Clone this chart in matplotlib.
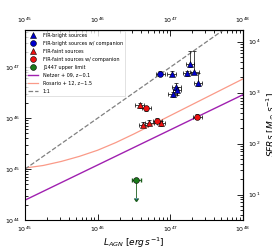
import numpy as np
import matplotlib
matplotlib.use('Agg')
import matplotlib.pyplot as plt

# log10 L_AGN, log10 L_SF (erg/s)
bright_x = [47.02, 47.27, 47.23, 47.33, 47.38, 47.08, 47.09, 47.03]
bright_y = [46.87, 47.06, 46.88, 46.91, 46.69, 46.61, 46.56, 46.47]
bright_yerr_lo = [0.05, 0.06, 0.05, 0.05, 0.06, 0.05, 0.10, 0.05]
bright_yerr_hi = [0.05, 0.25, 0.05, 0.40, 0.20, 0.08, 0.05, 0.05]

bright_comp_x = [46.86]
bright_comp_y = [46.87]

faint_x = [46.58, 46.63, 46.71, 46.87]
faint_y = [46.25, 45.87, 45.91, 45.90]

faint_comp_x = [46.67, 46.82, 47.37]
faint_comp_y = [46.19, 45.95, 46.03]

j1447_x = [46.53]
j1447_y = [44.79]

netzer_x = [45.0, 48.0]
netzer_y = [44.39, 46.46]

rosario_x = [45.0, 45.25, 45.5, 45.75, 46.0, 46.25, 46.5, 46.75, 47.0, 47.25, 47.5, 47.75, 48.0]
rosario_y = [45.02, 45.07, 45.15, 45.25, 45.37, 45.52, 45.69, 45.87, 46.05, 46.23, 46.41, 46.59, 46.77]

one_x = [45.0, 48.0]
one_y = [45.0, 48.0]

sfr_factor = 10 ** -43.5  # L_SF -> SFR


def lin(a):
    return 10 ** np.array(a)


fig = plt.figure(figsize=(2.72, 2.52), dpi=100)
ax = fig.add_axes([25 / 272, 1 - 220 / 252, 218 / 272, 190 / 252])

ax.plot(lin(netzer_x), lin(netzer_y), color='#a020b0', lw=1.0, label='Netzer + 09, z~0.1')
ax.plot(lin(rosario_x), lin(rosario_y), color='#fa9a88', lw=0.9, label='Rosario + 12, z~1.5')
ax.plot(lin(one_x), lin(one_y), color='gray', lw=0.9, ls='--', label='1:1')

ekw = dict(fmt='none', ecolor='black', elinewidth=0.5, capsize=1.2, capthick=0.5, zorder=3)
xe = 0.06


def xerr_of(x):
    x = np.array(x)
    return [10 ** x - 10 ** (x - xe), 10 ** (x + xe) - 10 ** x]


def yerr_of(y, lo, hi):
    y = np.array(y)
    return [10 ** y - 10 ** (y - np.array(lo)), 10 ** (y + np.array(hi)) - 10 ** y]


ax.errorbar(lin(bright_x), lin(bright_y), xerr=xerr_of(bright_x),
            yerr=yerr_of(bright_y, bright_yerr_lo, bright_yerr_hi), **ekw)
ax.errorbar(lin(bright_comp_x), lin(bright_comp_y), xerr=xerr_of(bright_comp_x),
            yerr=yerr_of(bright_comp_y, [0.05], [0.05]), **ekw)
ax.errorbar(lin(faint_x), lin(faint_y), xerr=xerr_of(faint_x),
            yerr=yerr_of(faint_y, [0.05] * 4, [0.05] * 4), **ekw)
ax.errorbar(lin(faint_comp_x), lin(faint_comp_y), xerr=xerr_of(faint_comp_x),
            yerr=yerr_of(faint_comp_y, [0.05] * 3, [0.05] * 3), **ekw)
gy = lin(j1447_y)
ax.errorbar(lin(j1447_x), gy, xerr=xerr_of(j1447_x), yerr=gy - gy * 10 ** -0.36,
            uplims=True, fmt='none', ecolor='#1a5c1a', elinewidth=0.6, capsize=1.5, zorder=3)

mk = dict(ls='none', ms=4.2, mec='black', mew=0.4, zorder=4)
ax.plot(lin(bright_x), lin(bright_y), marker='^', color='#0000cc', label='FIR-bright sources', **mk)
ax.plot(lin(bright_comp_x), lin(bright_comp_y), marker='o', color='#0000cc',
        label='FIR-bright sources w/ companion', **mk)
ax.plot(lin(faint_x), lin(faint_y), marker='^', color='#ee1111', label='FIR-faint sources', **mk)
ax.plot(lin(faint_comp_x), lin(faint_comp_y), marker='o', color='#ee1111',
        label='FIR-faint sources w/ companion', **mk)
ax.plot(lin(j1447_x), lin(j1447_y), marker='o', color='#1a7a1a', label='J1447 upper limit', **mk)

ax.set_xscale('log')
ax.set_yscale('log')
ax.set_xlim(1e45, 1e48)
ax.set_ylim(1e44, 10 ** 47.73)

tk = dict(direction='in', labelsize=4.5, width=0.6)
ax.tick_params(which='major', length=4, **tk)
ax.tick_params(which='minor', length=2, **tk)
ax.set_xlabel('$L_{AGN}$ [$erg\\,s^{-1}$]', fontsize=6.5, labelpad=1)
ax.set_ylabel('$L_{SF}$ [$erg\\,s^{-1}$]', fontsize=7, labelpad=10)

top = ax.secondary_xaxis('top')
top.tick_params(which='major', length=4, **tk)
top.tick_params(which='minor', length=2, **tk)

right = ax.secondary_yaxis('right', functions=(lambda v: v * sfr_factor, lambda v: v / sfr_factor))
right.tick_params(which='major', length=4, **tk)
right.tick_params(which='minor', length=2, **tk)
right.set_ylabel('$SFRs$ [$M_\\odot\\,s^{-1}$]', fontsize=6.5, labelpad=3)

for s in ax.spines.values():
    s.set_linewidth(0.8)

handles, labels = ax.get_legend_handles_labels()
order = [3, 4, 5, 6, 7, 0, 1, 2]
leg = ax.legend([handles[i] for i in order], [labels[i] for i in order], loc='upper left',
                fontsize=3.5, frameon=True, edgecolor='#cccccc', fancybox=False,
                handlelength=2.0, handletextpad=1.0, borderaxespad=0.2,
                labelspacing=0.6, borderpad=0.45)
leg.get_frame().set_linewidth(0.5)

fig.savefig('out.png', dpi=100)
